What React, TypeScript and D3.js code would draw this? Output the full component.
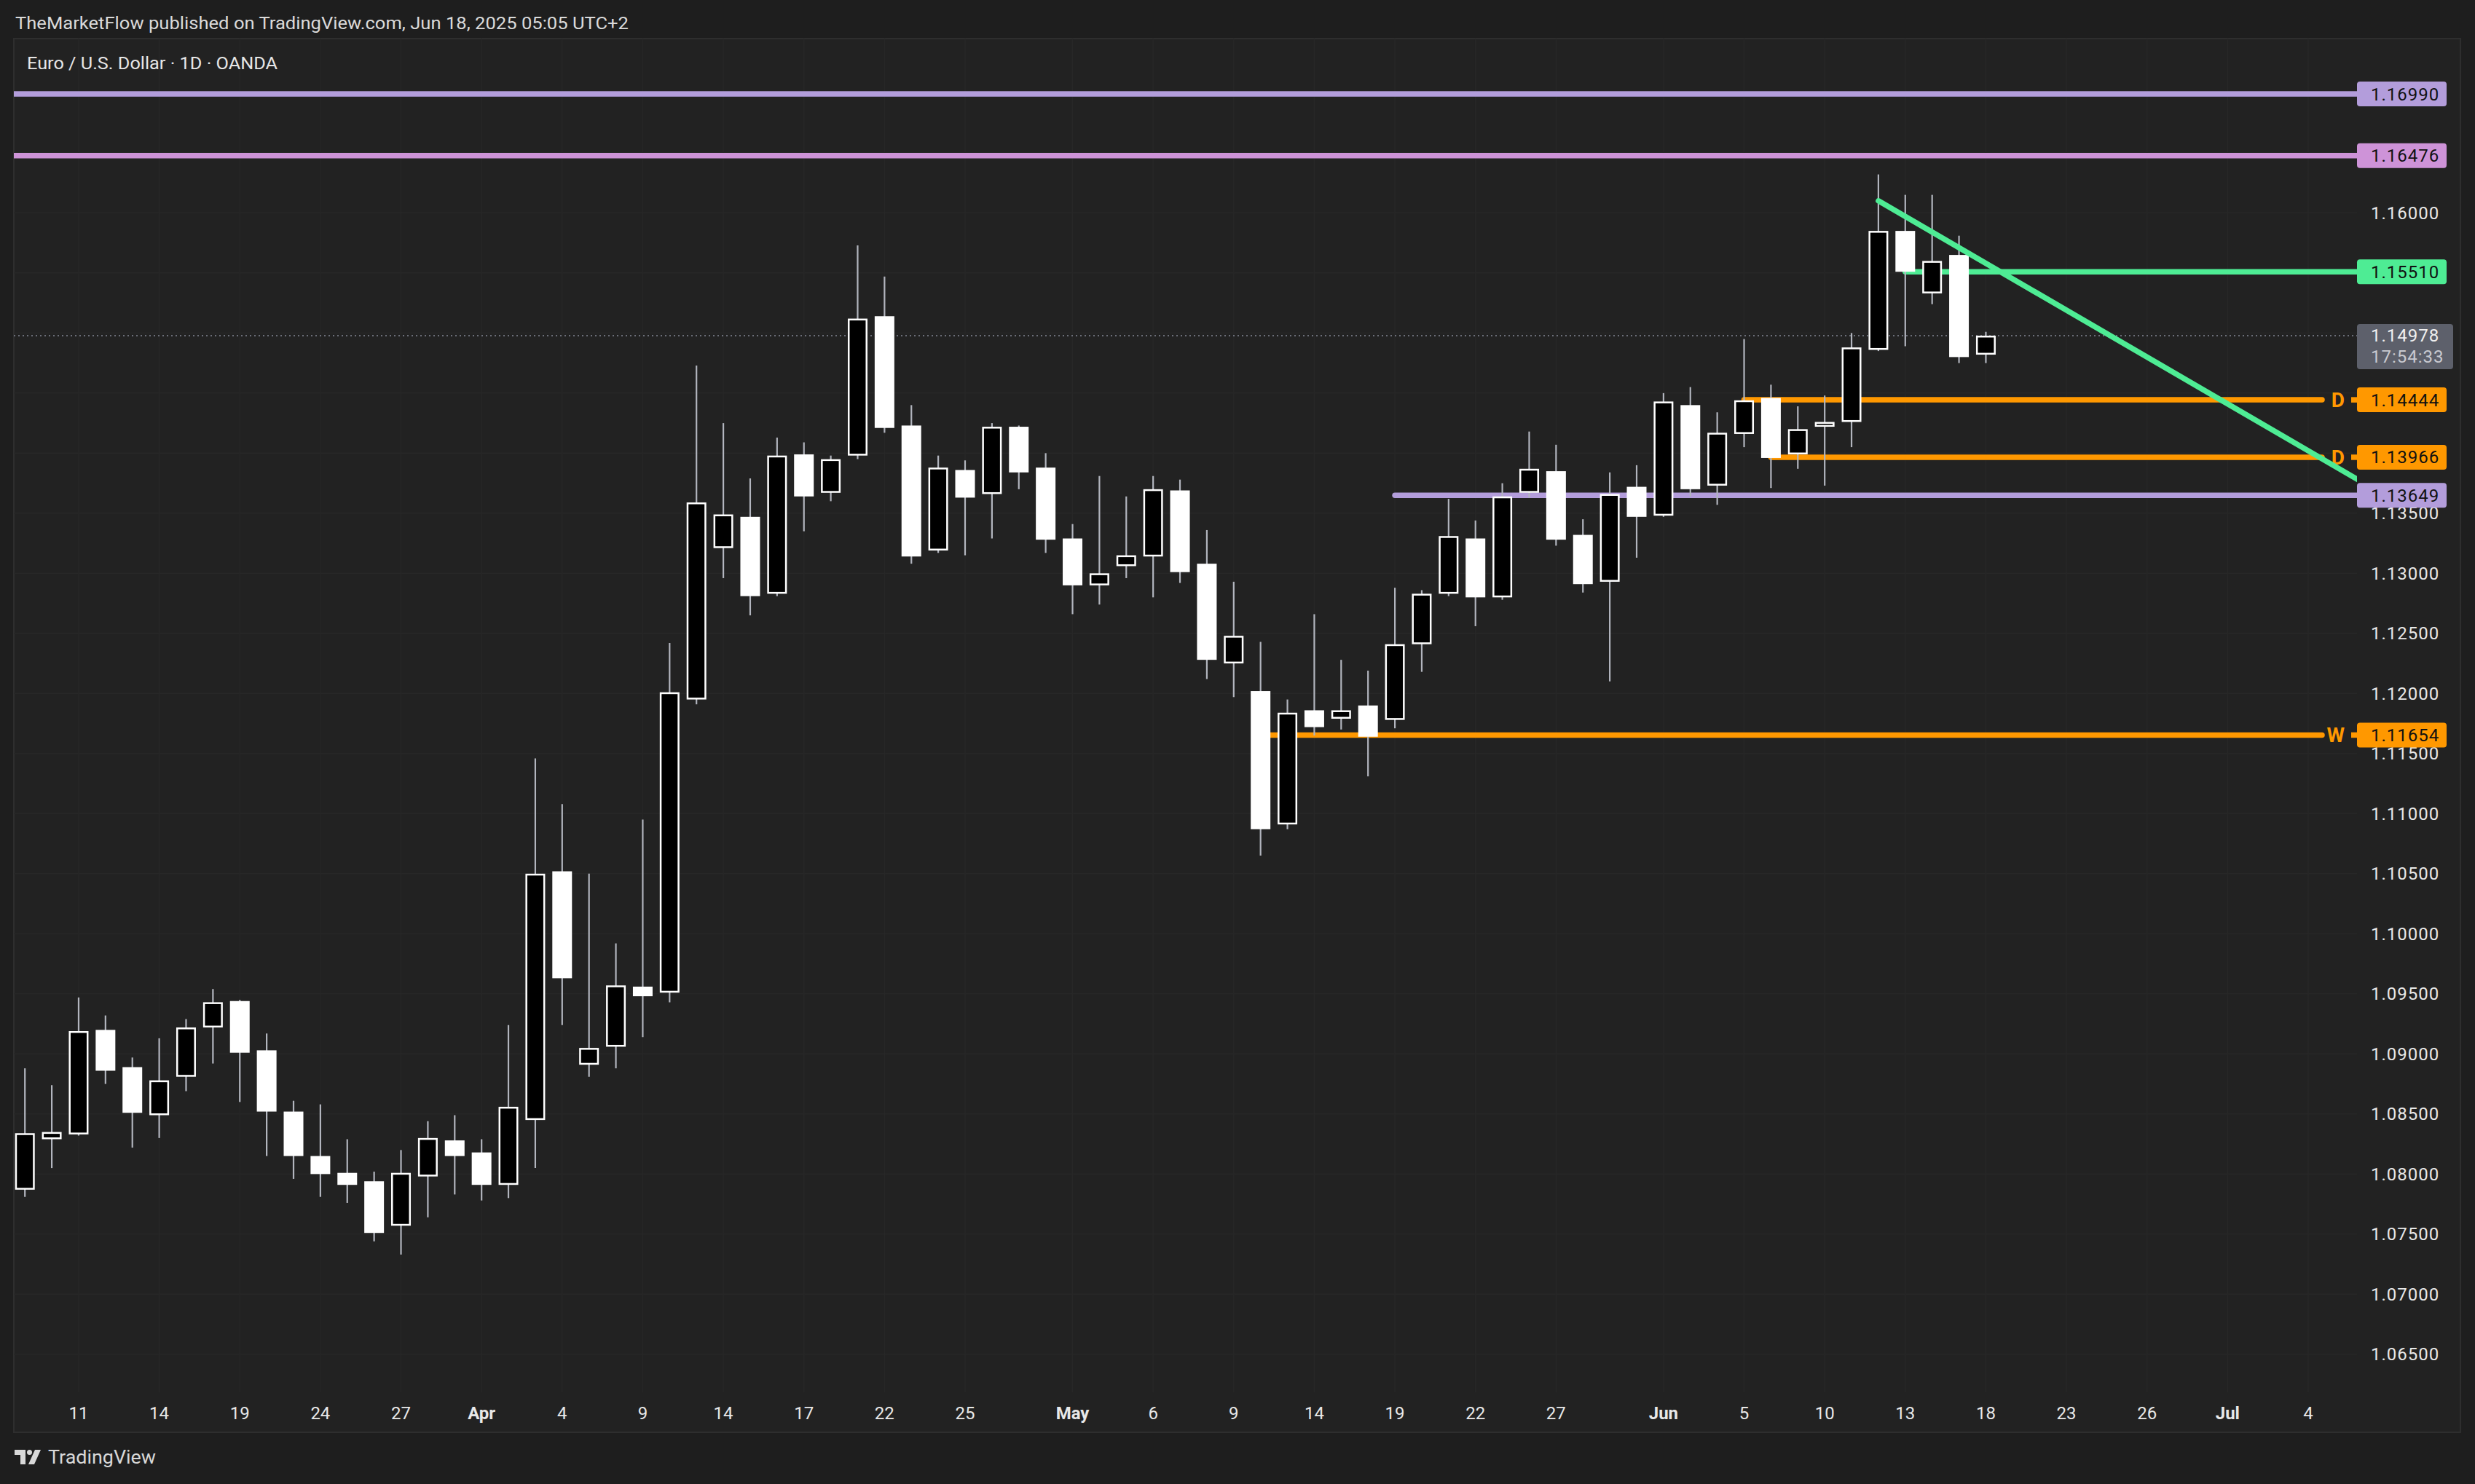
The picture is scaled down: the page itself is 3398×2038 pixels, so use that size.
import React from 'react';
import * as d3 from 'd3';

// ---------- DATA ----------
const open = [
  1.0787, 1.0829, 1.0833, 1.0920, 1.0889, 1.0849, 1.0881, 1.0922, 1.0944, 1.0903,
  1.0852, 1.0815, 1.0801, 1.0794, 1.0757, 1.0798, 1.0828, 1.0818, 1.0791, 1.0845,
  1.1052, 1.0891, 1.0906, 1.0956, 1.0951, 1.1195, 1.1321, 1.1347, 1.1283, 1.1399,
  1.1367, 1.1398, 1.1514, 1.1423, 1.1319, 1.1386, 1.1366, 1.1422, 1.1388, 1.1329,
  1.1290, 1.1306, 1.1314, 1.1369, 1.1308, 1.1225, 1.1202, 1.1091, 1.1186, 1.1179,
  1.1190, 1.1178, 1.1241, 1.1283, 1.1329, 1.1280, 1.1367, 1.1385, 1.1332, 1.1293,
  1.1372, 1.1348, 1.1440, 1.1373, 1.1416, 1.1446, 1.1399, 1.1422, 1.1426, 1.1486,
  1.1585, 1.1533, 1.1565, 1.1482,
];
const high = [
  1.0888, 1.0874, 1.0947, 1.0932, 1.0897, 1.0913, 1.0929, 1.0954, 1.0945, 1.0917,
  1.0861, 1.0858, 1.0829, 1.0802, 1.0820, 1.0844, 1.0849, 1.0829, 1.0924, 1.1146,
  1.1108, 1.1050, 1.0992, 1.1095, 1.1242, 1.1473, 1.1425, 1.1379, 1.1413, 1.1409,
  1.1398, 1.1573, 1.1547, 1.1440, 1.1398, 1.1394, 1.1425, 1.1423, 1.1400, 1.1341,
  1.1381, 1.1364, 1.1381, 1.1378, 1.1336, 1.1293, 1.1243, 1.1195, 1.1266, 1.1228,
  1.1219, 1.1288, 1.1286, 1.1362, 1.1344, 1.1375, 1.1418, 1.1407, 1.1345, 1.1384,
  1.1390, 1.1450, 1.1455, 1.1434, 1.1495, 1.1457, 1.1439, 1.1448, 1.1500, 1.1632,
  1.1615, 1.1615, 1.1581, 1.1501,
];
const low = [
  1.0781, 1.0805, 1.0832, 1.0875, 1.0822, 1.0830, 1.0869, 1.0892, 1.0860, 1.0815,
  1.0796, 1.0781, 1.0776, 1.0744, 1.0733, 1.0764, 1.0783, 1.0778, 1.0780, 1.0805,
  1.0924, 1.0881, 1.0888, 1.0914, 1.0943, 1.1191, 1.1296, 1.1265, 1.1281, 1.1335,
  1.1360, 1.1395, 1.1417, 1.1308, 1.1317, 1.1315, 1.1329, 1.1370, 1.1317, 1.1266,
  1.1274, 1.1296, 1.1280, 1.1292, 1.1212, 1.1197, 1.1065, 1.1087, 1.1165, 1.1170,
  1.1131, 1.1171, 1.1218, 1.1281, 1.1256, 1.1278, 1.1363, 1.1323, 1.1284, 1.1210,
  1.1313, 1.1347, 1.1364, 1.1357, 1.1405, 1.1371, 1.1387, 1.1373, 1.1405, 1.1485,
  1.1489, 1.1524, 1.1475, 1.1475,
];
const close = [
  1.0834, 1.0835, 1.0919, 1.0886, 1.0851, 1.0878, 1.0922, 1.0943, 1.0901, 1.0852,
  1.0815, 1.0800, 1.0791, 1.0751, 1.0801, 1.0830, 1.0815, 1.0791, 1.0856, 1.1050,
  1.0963, 1.0905, 1.0957, 1.0948, 1.1201, 1.1359, 1.1349, 1.1281, 1.1398, 1.1364,
  1.1395, 1.1512, 1.1421, 1.1314, 1.1388, 1.1363, 1.1422, 1.1384, 1.1328, 1.1290,
  1.1300, 1.1315, 1.1370, 1.1301, 1.1228, 1.1248, 1.1087, 1.1184, 1.1172, 1.1186,
  1.1164, 1.1241, 1.1283, 1.1331, 1.1280, 1.1364, 1.1387, 1.1328, 1.1291, 1.1366,
  1.1347, 1.1443, 1.1370, 1.1417, 1.1444, 1.1396, 1.1420, 1.1426, 1.1488, 1.1585,
  1.1551, 1.1560, 1.1480, 1.14978,
];

const dateTickIndex = [2, 5, 8, 11, 14, 17, 20, 23, 26, 29, 32, 35, 39, 42, 45, 48, 51, 54, 57, 61, 64, 67, 70, 73, 76, 79, 82, 85];
const dateTickLabel = ['11', '14', '19', '24', '27', 'Apr', '4', '9', '14', '17', '22', '25', 'May', '6', '9', '14', '19', '22', '27', 'Jun', '5', '10', '13', '18', '23', '26', 'Jul', '4'];
const monthNames = ['Apr', 'May', 'Jun', 'Jul'];

const priceTicks = [1.065, 1.07, 1.075, 1.08, 1.085, 1.09, 1.095, 1.1, 1.105, 1.11, 1.115, 1.12, 1.125, 1.13, 1.135, 1.14, 1.145, 1.15, 1.155, 1.16, 1.165, 1.17];

const levelPrices = [1.1699, 1.16476, 1.1551, 1.14444, 1.13966, 1.13649, 1.11654];
const levelStartBar = [-1, -1, 70, 64, 65, 51, 46]; // -1 = from left edge
const levelTag = ['', '', '', 'D', 'D', '', 'W'];
const levelKind = ['lavender', 'pink', 'green', 'orange', 'orange', 'lavender', 'orange'];

const trendBars = [69, 72];
const trendPrices = [1.1610, 1.1571];

const lastPrice = 1.14978;
const countdown = '17:54:33';

const headerText = 'TheMarketFlow published on TradingView.com, Jun 18, 2025 05:05 UTC+2';
const titleText = 'Euro / U.S. Dollar · 1D · OANDA';

// ---------- STYLE ----------
const W = 3398;
const H = 2038;
const COLORS: Record<string, string> = {
  lavender: '#b39ddb',
  pink: '#ce93d8',
  green: '#4eec94',
  orange: '#ff9800',
};
const FONT = 'Roboto, "Noto Sans", sans-serif';

export default function App() {
  const panelL = 19, panelT = 53, panelR = 3378, panelB = 1967;
  const plotR = 3236, plotB = 1912;

  const x = d3.scaleLinear().domain([0, 73]).range([34.2, 34.2 + 36.88 * 73]);
  const y = d3.scaleLinear().domain([1.065, 1.1699]).range([129 + 0.1049 * 16500, 129]);

  const bw = 27;
  const labelYs = [...levelPrices.map((p) => y(p)), y(lastPrice)];

  // trend line extended to right edge
  const slope = (trendPrices[1] - trendPrices[0]) / (trendBars[1] - trendBars[0]);
  const endBar = x.invert(plotR + 20);
  const trendEndPrice = trendPrices[0] + slope * (endBar - trendBars[0]);

  return (
    <div style={{ position: 'absolute', left: 0, top: 0, width: W, height: H }}>
      <svg width={W} height={H} style={{ display: 'block' }} fontFamily={FONT}>
        <defs>
          <clipPath id="plot">
            <rect x={panelL} y={panelT} width={plotR - panelL} height={plotB - panelT} />
          </clipPath>
        </defs>
        <rect x={0} y={0} width={W} height={H} fill="#1e1e1e" />
        <text x={21} y={40} fontSize={24} fill="#dadada" textLength={842} lengthAdjust="spacingAndGlyphs">
          {headerText}
        </text>
        <rect x={panelL} y={panelT} width={panelR - panelL} height={panelB - panelT} fill="#222222" stroke="#2e2e2e" strokeWidth={2} />

        {/* grid */}
        <g clipPath="url(#plot)">
          {priceTicks.map((p, i) => (
            <line key={'hg' + i} x1={panelL} x2={plotR} y1={y(p)} y2={y(p)} stroke="#272727" strokeWidth={1.5} />
          ))}
          {dateTickIndex.map((d, i) => (
            <line key={'vg' + i} x1={x(d)} x2={x(d)} y1={panelT} y2={plotB} stroke="#272727" strokeWidth={1.5} />
          ))}
        </g>

        <text x={37} y={95} fontSize={24} fill="#e6e6e6" textLength={344} lengthAdjust="spacingAndGlyphs">
          {titleText}
        </text>

        {/* level lines */}
        <g clipPath="url(#plot)">
          {levelPrices.map((p, i) => {
            const yy = y(p);
            const x1 = levelStartBar[i] < 0 ? panelL : x(levelStartBar[i]);
            const col = COLORS[levelKind[i]];
            if (levelTag[i]) {
              return (
                <g key={'lv' + i}>
                  <line x1={x1} x2={plotR - 48} y1={yy} y2={yy} stroke={col} strokeWidth={7.5} strokeLinecap="round" />
                  <text x={plotR - 17} y={yy + 10} fontSize={28} fontWeight={700} fill={col} textAnchor="end">
                    {levelTag[i]}
                  </text>
                  <line x1={plotR - 8} x2={plotR + 4} y1={yy} y2={yy} stroke={col} strokeWidth={7.5} />
                </g>
              );
            }
            return (
              <line key={'lv' + i} x1={x1} x2={plotR + 4} y1={yy} y2={yy} stroke={col} strokeWidth={7.5} strokeLinecap="round" />
            );
          })}
          {/* current price dotted line */}
          <line x1={panelL} x2={plotR} y1={y(lastPrice)} y2={y(lastPrice)} stroke="#6b6e78" strokeWidth={2} strokeDasharray="2 4" />
        </g>

        {/* candles */}
        <g clipPath="url(#plot)">
          {open.map((o, i) => {
            const c = close[i];
            const cx = x(i);
            const up = c >= o;
            const top = y(Math.max(o, c));
            const bot = y(Math.min(o, c));
            const bh = Math.max(bot - top, 3);
            return (
              <g key={'c' + i}>
                <line x1={cx} x2={cx} y1={y(high[i])} y2={y(low[i])} stroke="#b2b5be" strokeWidth={2.2} />
                {up ? (
                  <rect x={cx - bw / 2 + 1.25} y={top + 1.25} width={bw - 2.5} height={Math.max(bh - 2.5, 2)} fill="#000" stroke="#fff" strokeWidth={2.5} />
                ) : (
                  <rect x={cx - bw / 2} y={top} width={bw} height={bh} fill="#fff" />
                )}
              </g>
            );
          })}
        </g>

        {/* trend line */}
        <g clipPath="url(#plot)">
          <line
            x1={x(trendBars[0])}
            y1={y(trendPrices[0])}
            x2={x(endBar)}
            y2={y(trendEndPrice)}
            stroke={COLORS.green}
            strokeWidth={7.5}
            strokeLinecap="round"
          />
        </g>

        {/* price axis ticks */}
        {priceTicks
          .filter((p) => y(p) > panelT + 20 && y(p) < plotB - 10)
          .filter((p) => labelYs.every((ly) => Math.abs(ly - y(p)) >= 20))
          .map((p, i) => (
            <text key={'pt' + i} x={3255} y={y(p) + 8.5} fontSize={24} fill="#e8e8e8" letterSpacing={1}>
              {p.toFixed(5)}
            </text>
          ))}

        {/* price labels */}
        {levelPrices.map((p, i) => {
          const yy = y(p);
          return (
            <g key={'pl' + i}>
              <rect x={3236} y={yy - 17} width={123} height={34} rx={4} fill={COLORS[levelKind[i]]} />
              <text x={3255} y={yy + 8.5} fontSize={24} fill="#111" letterSpacing={1}>
                {p.toFixed(5)}
              </text>
            </g>
          );
        })}
        <g>
          <rect x={3236} y={y(lastPrice) - 16} width={132} height={62} rx={4} fill="#5d606b" />
          <text x={3255} y={y(lastPrice) + 8.5} fontSize={24} fill="#f0f0f0" letterSpacing={1}>
            {lastPrice.toFixed(5)}
          </text>
          <text x={3255} y={y(lastPrice) + 37} fontSize={24} fill="#c9cad0" letterSpacing={1}>
            {countdown}
          </text>
        </g>

        {/* date axis */}
        {dateTickIndex.map((d, i) => (
          <text
            key={'dt' + i}
            x={x(d)}
            y={1949}
            fontSize={24}
            fill="#e8e8e8"
            textAnchor="middle"
            fontWeight={monthNames.includes(dateTickLabel[i]) ? 700 : 400}
          >
            {dateTickLabel[i]}
          </text>
        ))}

        {/* TradingView logo */}
        <g transform="translate(20,1991)" fill="#d8d8d8">
          <path d="M0 0 H15 V20 H8 V7 H0 Z" />
          <circle cx={20.5} cy={3.5} r={3.5} />
          <path d="M28 0 H36 L27 20 H19 Z" />
        </g>
        <text x={66} y={2010} fontSize={26} fill="#d8d8d8" textLength={148} lengthAdjust="spacingAndGlyphs">
          TradingView
        </text>
      </svg>
    </div>
  );
}
